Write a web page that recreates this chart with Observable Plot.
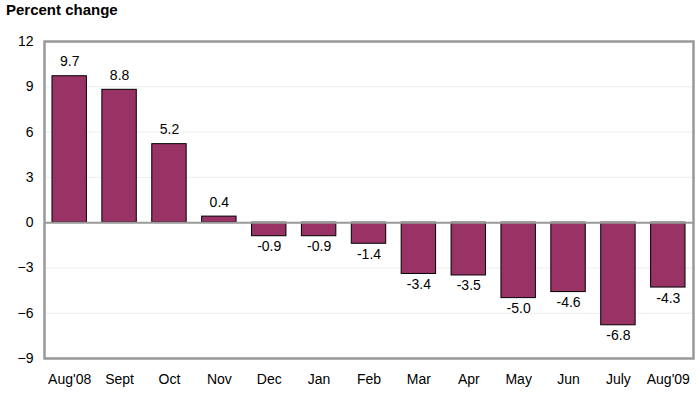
<!DOCTYPE html>
<html><head><meta charset="utf-8">
<script src="https://cdn.jsdelivr.net/npm/d3@7"></script>
<script src="https://cdn.jsdelivr.net/npm/@observablehq/plot@0.6"></script>
<style>
body{margin:0;background:#fff;font-family:"Liberation Sans",Arial,sans-serif;}
#wrap{position:relative;width:700px;height:396px;}
#title{position:absolute;left:6px;top:1px;font-weight:bold;font-size:15px;color:#000;}
</style></head>
<body><div id="wrap"><div id="title">Percent change</div></div>
<script>
const months = ["Aug'08","Sept","Oct","Nov","Dec","Jan","Feb","Mar","Apr","May","Jun","July","Aug'09"];
const values = [9.7,8.8,5.2,0.4,-0.9,-0.9,-1.4,-3.4,-3.5,-5.0,-4.6,-6.8,-4.3];
const yTicks = [-9,-6,-3,0,3,6,9,12];
const data = months.map((m,i)=>({m, v: values[i]}));
const pos = data.filter(d=>d.v>=0), neg = data.filter(d=>d.v<0);
const chart = Plot.plot({
  width:700, height:396,
  marginLeft:44, marginRight:7, marginTop:41, marginBottom:38,
  style:{fontFamily:"'Liberation Sans',Arial,sans-serif", fontSize:"14px", color:"#000", background:"#fff"},
  x:{domain:months, label:null, paddingInner:0.31, paddingOuter:0.16, round:false, tickSize:0, tickPadding:16},
  y:{domain:[-9,12], ticks:yTicks, label:null, tickSize:0, tickPadding:11},
  marks:[
    Plot.ruleY(yTicks.filter(t=>t!==0 && t!==12 && t!==-9), {stroke:"#ececec", strokeWidth:1}),
    Plot.barY(data, {x:"m", y:"v", fill:"#993366", stroke:"#000", strokeWidth:1}),
    Plot.ruleY([0], {stroke:"#999", strokeWidth:2}),
    Plot.frame({stroke:"#999", strokeWidth:2.5}),
    Plot.text(pos, {x:"m", y:"v", text:d=>d.v.toFixed(1), lineAnchor:"bottom", dy:-10, fontSize:14, fill:"#000"}),
    Plot.text(neg, {x:"m", y:"v", text:d=>d.v.toFixed(1), lineAnchor:"top", dy:5, fontSize:14, fill:"#000"})
  ]
});
document.getElementById("wrap").prepend(chart);
</script></body></html>
